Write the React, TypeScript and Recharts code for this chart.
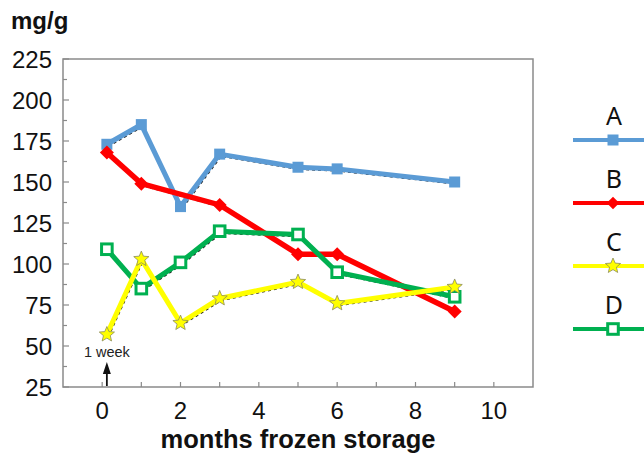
import React from 'react';
import {
  LineChart,
  Line,
  XAxis,
  YAxis,
  Legend,
  Label,
  ReferenceArea,
  ReferenceDot,
} from 'recharts';

// Storage time in months (first reading was taken after one week)
const months = [0.12, 1, 2, 3, 5, 6, 9];
const seriesA = [173, 185, 135, 167, 159, 158, 150];
const seriesB = [168, 149, null, 136, 106, 106, 71];
const seriesC = [57, 103, 64, 79, 89, 76, 86];
const seriesD = [109, 85, 101, 120, 118, 95, 80];

const yTicks = [25, 37.5, 50, 62.5, 75, 87.5, 100, 112.5, 125, 137.5, 150, 162.5, 175, 187.5, 200, 212.5, 225];
const xTicks = [0, 1, 2, 3, 4, 5, 6, 7, 8, 9, 10];
const xDomain = [-1, 11];
const yDomain = [25, 225];

const BLUE = '#5B9BD5';
const RED = '#FF0000';
const YELLOW = '#FFFF00';
const GREEN = '#00B050';
const FRAME = '#8a8a8a';
const FONT = '"Liberation Sans", Arial, sans-serif';

const data = months.map((month, i) => ({
  month,
  A: seriesA[i],
  B: seriesB[i],
  C: seriesC[i],
  D: seriesD[i],
}));

type Shape = 'square' | 'diamond' | 'star' | 'open';

const SERIES: { key: 'A' | 'B' | 'C' | 'D'; color: string; shape: Shape }[] = [
  { key: 'A', color: BLUE, shape: 'square' },
  { key: 'B', color: RED, shape: 'diamond' },
  { key: 'D', color: GREEN, shape: 'open' },
  { key: 'C', color: YELLOW, shape: 'star' },
];

const LEGEND_ORDER = ['A', 'B', 'C', 'D'];

function starPath(cx: number, cy: number, outer: number, inner: number) {
  const pts: string[] = [];
  for (let i = 0; i < 10; i++) {
    const r = i % 2 === 0 ? outer : inner;
    const a = -Math.PI / 2 + (i * Math.PI) / 5;
    pts.push(`${(cx + r * Math.cos(a)).toFixed(2)},${(cy + r * Math.sin(a)).toFixed(2)}`);
  }
  return `M${pts.join('L')}Z`;
}

function Marker({ shape, cx, cy, color, scale = 1 }: { shape: Shape; cx: number; cy: number; color: string; scale?: number }) {
  if (shape === 'square') {
    const h = 5.5 * scale;
    return <rect x={cx - h} y={cy - h} width={2 * h} height={2 * h} fill={color} />;
  }
  if (shape === 'diamond') {
    const h = 7 * scale;
    return <path d={`M${cx},${cy - h}L${cx + h},${cy}L${cx},${cy + h}L${cx - h},${cy}Z`} fill={color} />;
  }
  if (shape === 'star') {
    return <path d={starPath(cx, cy, 8 * scale, 3.6 * scale)} fill={color} stroke="#8c8c5c" strokeWidth={0.8} />;
  }
  const h = 5.3 * scale;
  return <rect x={cx - h} y={cy - h} width={2 * h} height={2 * h} fill="#ffffff" stroke={color} strokeWidth={3} />;
}

const makeDot = (shape: Shape, color: string) => (p: any) => {
  if (p.cx == null || p.cy == null || p.value == null) return <g key={`e-${p.index}`} />;
  return (
    <g key={`d-${p.index}`}>
      <Marker shape={shape} cx={p.cx} cy={p.cy} color={color} />
    </g>
  );
};

// Y ticks: inward marks on every tick, numbers on multiples of 25
const Y_TICK_MARGIN = 11;
const YTick = (props: any) => {
  const { x, y, payload } = props;
  const axisX = x + Y_TICK_MARGIN;
  const major = payload.value % 25 === 0;
  return (
    <g>
      <line x1={axisX} x2={axisX + (major ? 6 : 4)} y1={y} y2={y} stroke={FRAME} strokeWidth={1.2} />
      {major && (
        <text x={x} y={y} dy="0.36em" textAnchor="end" fontSize={24} fontFamily={FONT} fill="#111">
          {payload.value}
        </text>
      )}
    </g>
  );
};

// X ticks: inward marks on every month, numbers on even months
const X_TICK_MARGIN = 23;
const XTick = (props: any) => {
  const { x, y, payload } = props;
  const axisY = y - X_TICK_MARGIN;
  const labelled = payload.value % 2 === 0;
  return (
    <g>
      <line x1={x} x2={x} y1={axisY} y2={axisY - 5} stroke={FRAME} strokeWidth={1.2} />
      {labelled && (
        <text x={x} y={y} dy="0.36em" textAnchor="middle" fontSize={24} fontFamily={FONT} fill="#111">
          {payload.value}
        </text>
      )}
    </g>
  );
};

const UnitLabel = (props: any) => {
  const vb = props.viewBox || { x: 0, y: 0 };
  return (
    <text x={vb.x + 11} y={vb.y - 30} fontSize={24} fontWeight="bold" fontFamily={FONT} fill="#111">
      mg/g
    </text>
  );
};

// "1 week" marker: arrow pointing up at the first sampling time
const WeekArrow = (props: any) => {
  const { cx, cy } = props;
  if (cx == null || cy == null) return null;
  return (
    <g>
      <line x1={cx} x2={cx} y1={cy - 1} y2={cy - 15} stroke="#111" strokeWidth={1.8} />
      <path d={`M${cx},${cy - 25}L${cx + 4},${cy - 13}L${cx - 4},${cy - 13}Z`} fill="#111" />
      <text x={cx} y={cy - 30} textAnchor="middle" fontSize={14.5} fontFamily={FONT} fill="#222">
        1 week
      </text>
    </g>
  );
};

const LegendBlock = () => (
  <div style={{ width: 79 }}>
    {LEGEND_ORDER.map((k) => {
      const s = SERIES.find((v) => v.key === k)!;
      return (
        <svg key={k} width={79} height={63} style={{ display: 'block' }}>
          <text
            x={49}
            y={21}
            dy="0.36em"
            textAnchor="middle"
            fontSize={25}
            fontFamily='"Noto Sans", "Open Sans", sans-serif'
            fill="#111"
          >
            {s.key}
          </text>
          <line x1={8} x2={79} y1={45} y2={45} stroke={s.color} strokeWidth={4} />
          <Marker shape={s.shape} cx={48} cy={45} color={s.color} scale={s.shape === 'diamond' ? 0.9 : 1} />
        </svg>
      );
    })}
  </div>
);

export default function App() {
  return (
    <div style={{ position: 'absolute', left: 0, top: 0, width: 644, height: 454, background: '#fff' }}>
      <style>{'.trace-shadow{transform:translate(1.5px,2px)}'}</style>
      <LineChart
        width={644}
        height={454}
        data={data}
        margin={{ top: 59, right: 111, bottom: 0, left: 0 }}
        style={{ fontFamily: FONT }}
      >
        <XAxis
          dataKey="month"
          type="number"
          domain={xDomain}
          ticks={xTicks}
          interval={0}
          height={67}
          axisLine={false}
          tickLine={false}
          tickSize={0}
          tickMargin={X_TICK_MARGIN}
          tick={<XTick />}
          allowDataOverflow
        >
          <Label
            value="months frozen storage"
            position="insideBottom"
            offset={6}
            fontSize={25.5}
            fontWeight="bold"
            fill="#111"
            fontFamily={FONT}
          />
        </XAxis>
        <YAxis
          type="number"
          domain={yDomain}
          ticks={yTicks}
          interval={0}
          width={63}
          axisLine={false}
          tickLine={false}
          tickSize={0}
          tickMargin={Y_TICK_MARGIN}
          tick={<YTick />}
          allowDataOverflow
        >
          <Label content={<UnitLabel />} />
        </YAxis>
        <ReferenceArea
          x1={xDomain[0]}
          x2={xDomain[1]}
          y1={yDomain[0]}
          y2={yDomain[1]}
          fill="none"
          stroke={FRAME}
          strokeWidth={1.5}
        />
        {SERIES.map((s) => (
          <Line
            key={`shadow-${s.key}`}
            className="trace-shadow"
            dataKey={s.key}
            type="linear"
            stroke="#222"
            strokeWidth={1.6}
            strokeDasharray="3 3"
            dot={false}
            connectNulls
            legendType="none"
            isAnimationActive={false}
          />
        ))}
        {SERIES.map((s) => (
          <Line
            key={s.key}
            dataKey={s.key}
            name={s.key}
            type="linear"
            stroke={s.color}
            strokeWidth={s.key === 'B' ? 5.5 : 5}
            dot={makeDot(s.shape, s.color)}
            activeDot={false}
            connectNulls
            isAnimationActive={false}
          />
        ))}
        <ReferenceDot x={months[0]} y={yDomain[0]} shape={<WeekArrow />} />
        <Legend
          layout="vertical"
          align="center"
          verticalAlign="middle"
          content={<LegendBlock />}
          wrapperStyle={{ position: 'absolute', left: 565, top: 95, width: 79 }}
        />
      </LineChart>
    </div>
  );
}
